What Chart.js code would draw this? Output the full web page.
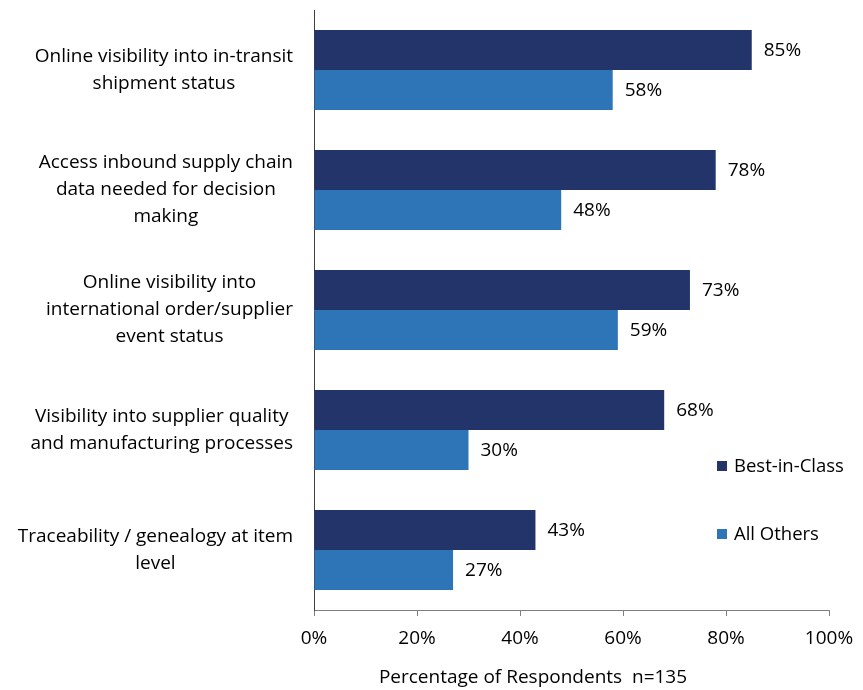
<!DOCTYPE html>
<html><head><meta charset="utf-8">
<script src="https://cdn.jsdelivr.net/npm/chart.js@4/dist/chart.umd.min.js"></script>
<style>html,body{margin:0;padding:0;background:#fff}#wrap{width:863px;height:690px}</style>
</head><body><div id="wrap"><canvas id="c" width="863" height="690"></canvas></div>
<script>
const categories = [
  ["Online visibility into in-transit", "shipment status"],
  ["Access inbound supply chain", "data needed for decision", "making"],
  ["Online visibility into", "international order/supplier", "event status"],
  ["Visibility into supplier quality", "and manufacturing processes"],
  ["Traceability / genealogy at item", "level"]
];
const seriesNames = ["Best-in-Class", "All Others"];
const bestInClass = [85, 78, 73, 68, 43];
const allOthers = [58, 48, 59, 30, 27];
const xTicks = [0, 20, 40, 60, 80, 100];
const axisTitle = "Percentage of Respondents  n=135";

const FONT = "'Open Sans', sans-serif";
const FS = 19;
const LINE_H = 27;
const colors = ["#23346A", "#2E75B7"];

const labelPlugin = {
  id: 'valueLabels',
  afterDraw(chart) {
    const ctx = chart.ctx;
    ctx.save();
    ctx.font = FS + "px " + FONT;
    ctx.fillStyle = "#000";
    ctx.textBaseline = "middle";
    ctx.textAlign = "left";
    chart.data.datasets.forEach((ds, i) => {
      chart.getDatasetMeta(i).data.forEach((bar, j) => {
        ctx.fillText(ds.data[j] + "%", bar.x + 12, bar.y + 1);
      });
    });
    // category labels: block right-aligned, lines centred within block
    const yScale = chart.scales.y;
    const rightEdge = 293;
    ctx.textAlign = "center";
    chart.data.labels.forEach((lines, i) => {
      const yc = yScale.getPixelForTick(i);
      const w = Math.max(...lines.map(l => ctx.measureText(l).width));
      const cx = rightEdge - w / 2;
      const y0 = yc - (lines.length - 1) * LINE_H / 2;
      lines.forEach((l, k) => ctx.fillText(l, cx, y0 + k * LINE_H));
    });
    // legend
    const lx = 717, ly = [466, 534];
    ctx.textAlign = "left";
    ctx.font = "18.5px " + FONT;
    seriesNames.forEach((n, i) => {
      ctx.fillStyle = colors[i];
      ctx.fillRect(lx, ly[i] - 5, 10, 10);
      ctx.fillStyle = "#000";
      ctx.fillText(n, lx + 17, ly[i] + 1);
    });
    // axis title
    ctx.font = FS + "px " + FONT;
    ctx.textAlign = "center";
    ctx.fillText(axisTitle, 533, 678);
    ctx.restore();
  }
};

new Chart(document.getElementById('c'), {
  type: 'bar',
  data: {
    labels: categories,
    datasets: [
      { label: seriesNames[0], data: bestInClass, backgroundColor: colors[0], borderWidth: 0 },
      { label: seriesNames[1], data: allOthers, backgroundColor: colors[1], borderWidth: 0 }
    ]
  },
  options: {
    indexAxis: 'y',
    responsive: false,
    animation: false,
    devicePixelRatio: 1,
    layout: { padding: { top: 10, right: 34, left: 0, bottom: 0 } },
    datasets: { bar: { categoryPercentage: 0.667, barPercentage: 1.0 } },
    plugins: { legend: { display: false }, tooltip: { enabled: false } },
    scales: {
      x: {
        min: 0, max: 100,
        afterBuildTicks(scale) { scale.ticks = xTicks.map(v => ({ value: v })); },
        afterFit(scale) { scale.height = 80; scale.paddingLeft = 0; scale.paddingRight = 0; },
        ticks: { callback: v => v + "%", color: "#000", font: { family: FONT, size: FS }, padding: 11, maxRotation: 0 },
        grid: { drawOnChartArea: false, drawTicks: true, tickLength: 6, color: "#7f7f7f" },
        border: { display: true, color: "#7f7f7f", width: 1 }
      },
      y: {
        afterFit(scale) { scale.width = 314; scale.paddingTop = 0; scale.paddingBottom = 0; },
        ticks: { display: false },
        grid: { display: false, drawTicks: false },
        border: { display: true, color: "#3f3f3f", width: 1 }
      }
    }
  },
  plugins: [labelPlugin]
});
</script></body></html>
